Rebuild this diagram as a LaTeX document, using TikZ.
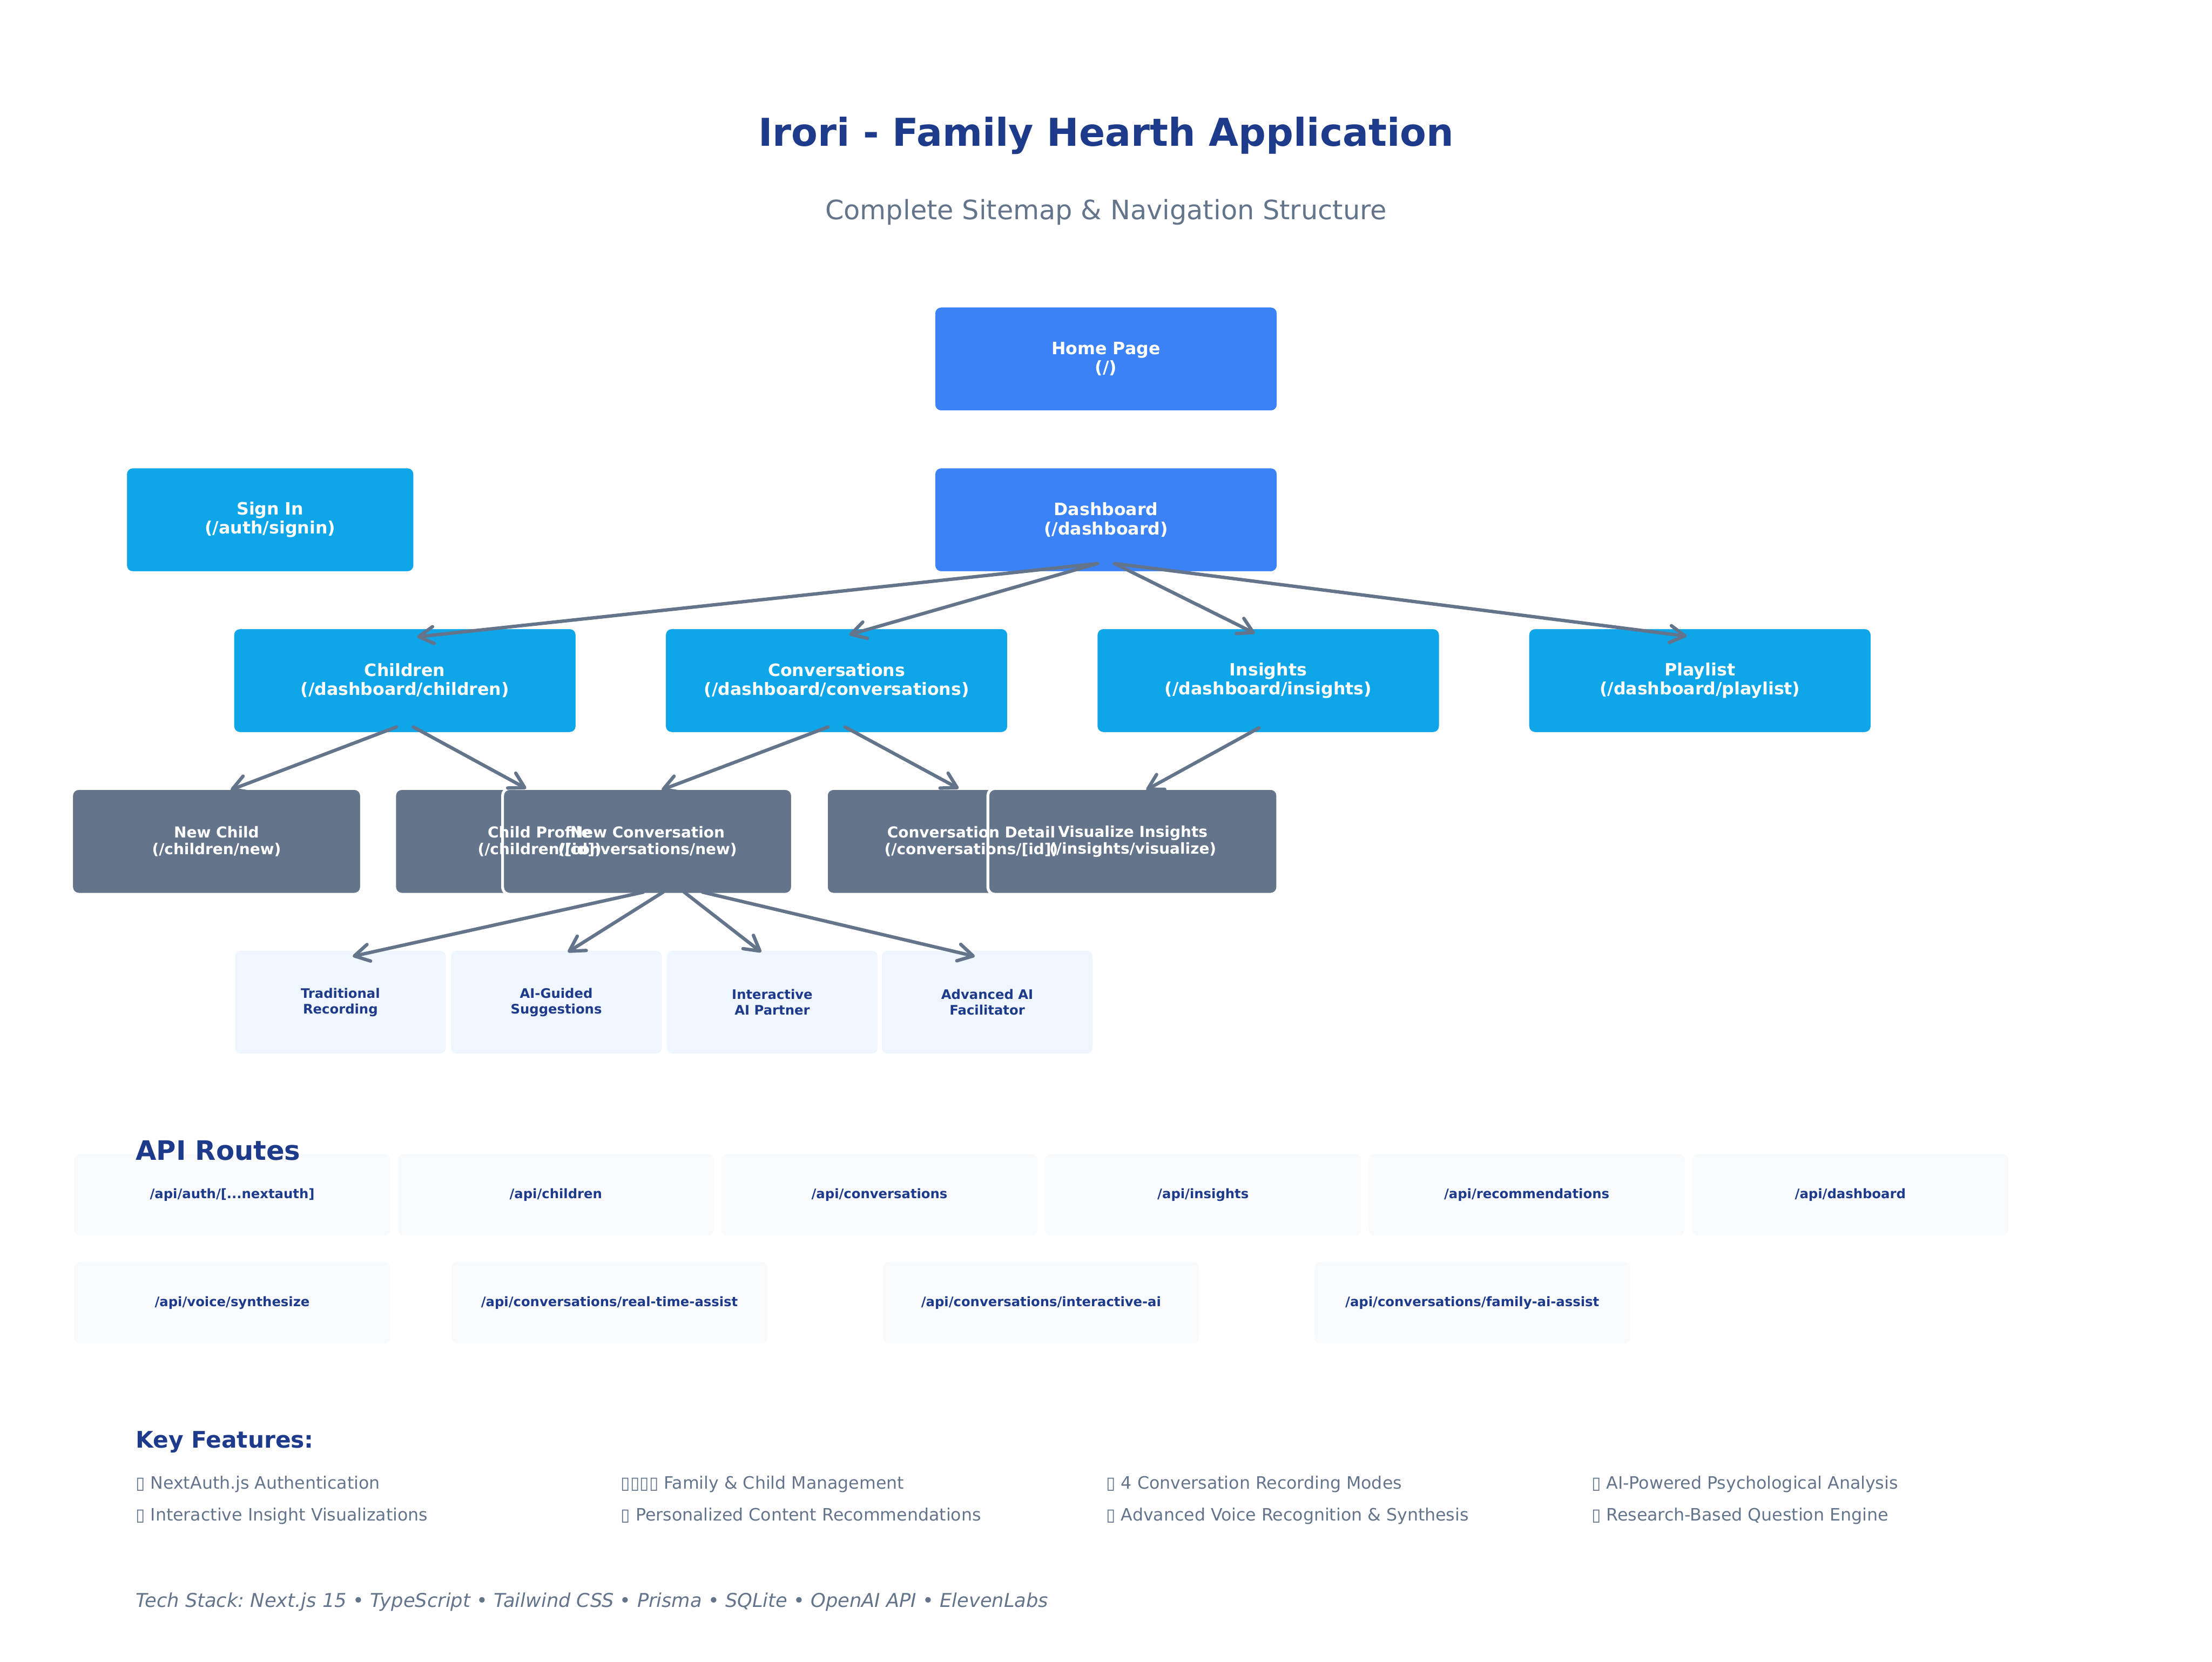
\documentclass[tikz,border=0pt]{standalone}
\usepackage{fontspec}
\setmainfont{DejaVu Sans}
\usetikzlibrary{arrows.meta}
\frenchspacing
\definecolor{titleblue}{HTML}{1E3A8A}
\definecolor{slate}{HTML}{64748B}
\definecolor{primary}{HTML}{3B82F6}
\definecolor{skyb}{HTML}{0EA5E9}
\definecolor{lightblue}{HTML}{EFF6FF}
\definecolor{apifill}{HTML}{F8FAFC}
\tikzset{
  boxbase/.style={rectangle, rounded corners=5pt, draw=white, line width=2pt, inner sep=0pt, outer sep=0pt},
  mainbox/.style={boxbase, fill=primary, minimum width=244pt, minimum height=75pt},
  secbox/.style={boxbase, fill=skyb, minimum width=244pt, minimum height=75pt},
  signbox/.style={boxbase, fill=skyb, minimum width=205pt, minimum height=75pt},
  pagebox/.style={boxbase, fill=slate, minimum width=205.5pt, minimum height=75pt},
  modebox/.style={boxbase, fill=lightblue, minimum width=151.5pt, minimum height=75pt},
  apibox/.style={boxbase, fill=apifill, minimum width=226pt, minimum height=60pt},
  lbl/.style={align=center, text=white, font=\bfseries\fontsize{12.1}{13.5}\selectfont},
  lblsmall/.style={align=center, text=white, font=\bfseries\fontsize{10.7}{12}\selectfont},
  lblmode/.style={align=center, text=titleblue, font=\bfseries\fontsize{9.3}{11}\selectfont},
  lblapi/.style={align=center, text=titleblue, font=\bfseries\fontsize{9.3}{11}\selectfont},
  feat/.style={anchor=base west, inner sep=0pt, text=slate, font=\fontsize{12.1}{14}\selectfont},
  arr/.style={draw=slate, line width=2.4pt, line cap=round, -{Straight Barb[length=10.5pt,width=12pt,round]}}
}
\begin{document}
\begin{tikzpicture}[x=1pt,y=-1pt]
\useasboundingbox[fill=white] (0,0) rectangle (1568,1178);

% titles
\node[anchor=base, text=titleblue, font=\bfseries\fontsize{27.2}{32}\selectfont] (title) at (784,103.7) {Irori - Family Hearth Application};
\node[anchor=base, text=slate, font=\fontsize{18.9}{22}\selectfont] (subtitle) at (784,155.8) {Complete Sitemap \& Navigation Structure};

% boxes
\node[mainbox] (home) at (784,254.5) {};
\node[mainbox] (dash) at (784,368.5) {};
\node[signbox] (signin) at (191.5,368.5) {};
\node[secbox] (children) at (287,482.5) {};
\node[secbox] (convs) at (593,482.5) {};
\node[secbox] (insights) at (899,482.5) {};
\node[secbox] (playlist) at (1205,482.5) {};
\node[pagebox] (newchild) at (153.5,596.5) {};
\node[pagebox] (childprof) at (382.5,596.5) {};
\node[pagebox] (newconv) at (459,596.5) {};
\node[pagebox] (convdetail) at (688.5,596.5) {};
\node[pagebox] (visualize) at (803,596.5) {};
\node[modebox] (trad) at (241.3,710.5) {};
\node[modebox] (aiguided) at (394.3,710.5) {};
\node[modebox] (interactive) at (547.4,710.5) {};
\node[modebox] (advanced) at (699.8,710.5) {};

% arrows
\draw[arr] ([xshift=-6pt,yshift=6.5pt]dash.south) -- ([xshift=8.6pt,yshift=-6.5pt]children.north);
\draw[arr] ([xshift=-6pt,yshift=6.5pt]dash.south) -- ([xshift=9pt,yshift=-5pt]convs.north);
\draw[arr] ([xshift=6pt,yshift=6.5pt]dash.south) -- ([xshift=-9.5pt,yshift=-4pt]insights.north);
\draw[arr] ([xshift=6pt,yshift=6.5pt]dash.south) -- ([xshift=-9.4pt,yshift=-6pt]playlist.north);
\draw[arr] ([xshift=-6pt,yshift=4.6pt]children.south) -- ([xshift=10pt,yshift=-1pt]newchild.north);
\draw[arr] ([xshift=6pt,yshift=4.6pt]children.south) -- ([xshift=-9.5pt,yshift=0pt]childprof.north);
\draw[arr] ([xshift=-6pt,yshift=4.6pt]convs.south) -- ([xshift=10pt,yshift=-1pt]newconv.north);
\draw[arr] ([xshift=6pt,yshift=4.6pt]convs.south) -- ([xshift=-9pt,yshift=0pt]convdetail.north);
\draw[arr] ([xshift=-6.5pt,yshift=4pt]insights.south) -- ([xshift=9.5pt,yshift=-1pt]visualize.north);
\draw[arr] ([xshift=-3pt,yshift=1.5pt]newconv.south) -- ([xshift=8.7pt,yshift=-5pt]trad.north);
\draw[arr] ([xshift=11pt,yshift=1.5pt]newconv.south) -- ([xshift=8.2pt,yshift=-2pt]aiguided.north);
\draw[arr] ([xshift=26pt,yshift=1.5pt]newconv.south) -- ([xshift=-7.8pt,yshift=-2pt]interactive.north);
\draw[arr] ([xshift=39pt,yshift=1.5pt]newconv.south) -- ([xshift=-8.8pt,yshift=-5pt]advanced.north);

% box labels
\node[lbl] (t-home) at (home.center) {Home Page\\(/)};
\node[lbl] (t-dash) at (dash.center) {Dashboard\\(/dashboard)};
\node[lbl] (t-signin) at (signin.center) {Sign In\\(/auth/signin)};
\node[lbl] (t-children) at (children.center) {Children\\(/dashboard/children)};
\node[lbl] (t-convs) at (convs.center) {Conversations\\(/dashboard/conversations)};
\node[lbl] (t-insights) at (insights.center) {Insights\\(/dashboard/insights)};
\node[lbl] (t-playlist) at (playlist.center) {Playlist\\(/dashboard/playlist)};
\node[lblsmall] (t-newchild) at (newchild.center) {New Child\\(/children/new)};
\node[lblsmall] (t-childprof) at (childprof.center) {Child Profile\\(/children/[id])};
\node[lblsmall] (t-newconv) at (newconv.center) {New Conversation\\(/conversations/new)};
\node[lblsmall] (t-convdetail) at (convdetail.center) {Conversation Detail\\(/conversations/[id])};
\node[lblsmall] (t-visualize) at (visualize.center) {Visualize Insights\\(/insights/visualize)};
\node[lblmode] (t-trad) at (trad.center) {Traditional\\Recording};
\node[lblmode] (t-aiguided) at (aiguided.center) {AI-Guided\\Suggestions};
\node[lblmode] (t-interactive) at (interactive.center) {Interactive\\AI Partner};
\node[lblmode] (t-advanced) at (advanced.center) {Advanced AI\\Facilitator};

% API routes
\node[apibox] (api1) at (164.6,847) {};
\node[apibox] (api2) at (394,847) {};
\node[apibox] (api3) at (623.4,847) {};
\node[apibox] (api4) at (852.8,847) {};
\node[apibox] (api5) at (1082.2,847) {};
\node[apibox] (api6) at (1311.6,847) {};
\node[apibox] (api7) at (164.6,923.5) {};
\node[apibox] (api8) at (432,923.5) {};
\node[apibox] (api9) at (738,923.5) {};
\node[apibox] (api10) at (1043.6,923.5) {};
\node[anchor=base west, inner sep=0pt, text=titleblue, font=\bfseries\fontsize{19}{22}\selectfont] (apihead) at (96,822.5) {API Routes};
\node[lblapi] (t-api1) at (api1.center) {/api/auth/[...nextauth]};
\node[lblapi] (t-api2) at (api2.center) {/api/children};
\node[lblapi] (t-api3) at (api3.center) {/api/conversations};
\node[lblapi] (t-api4) at (api4.center) {/api/insights};
\node[lblapi] (t-api5) at (api5.center) {/api/recommendations};
\node[lblapi] (t-api6) at (api6.center) {/api/dashboard};
\node[lblapi] (t-api7) at (api7.center) {/api/voice/synthesize};
\node[lblapi] (t-api8) at (api8.center) {/api/conversations/real-time-assist};
\node[lblapi] (t-api9) at (api9.center) {/api/conversations/interactive-ai};
\node[lblapi] (t-api10) at (api10.center) {/api/conversations/family-ai-assist};

% key features
\node[anchor=base west, inner sep=0pt, text=titleblue, font=\bfseries\fontsize{16.2}{19}\selectfont] (keyhead) at (96,1026.6) {Key Features:};
\node[feat] (f1) at (96,1055.4) {▯ NextAuth.js Authentication};
\node[feat] (f2) at (440,1055.4) {▯▯▯▯ Family \& Child Management};
\node[feat] (f3) at (784,1055.4) {▯ 4 Conversation Recording Modes};
\node[feat] (f4) at (1128,1055.4) {▯ AI-Powered Psychological Analysis};
\node[feat] (f5) at (96,1078.3) {▯ Interactive Insight Visualizations};
\node[feat] (f6) at (440,1078.3) {▯ Personalized Content Recommendations};
\node[feat] (f7) at (784,1078.3) {▯ Advanced Voice Recognition \& Synthesis};
\node[feat] (f8) at (1128,1078.3) {▯ Research-Based Question Engine};

\node[anchor=base west, inner sep=0pt, text=slate, font=\itshape\fontsize{13.5}{16}\selectfont] (tech) at (96,1139.4) {Tech Stack: Next.js 15 • TypeScript • Tailwind CSS • Prisma • SQLite • OpenAI API • ElevenLabs};
\end{tikzpicture}
\end{document}
